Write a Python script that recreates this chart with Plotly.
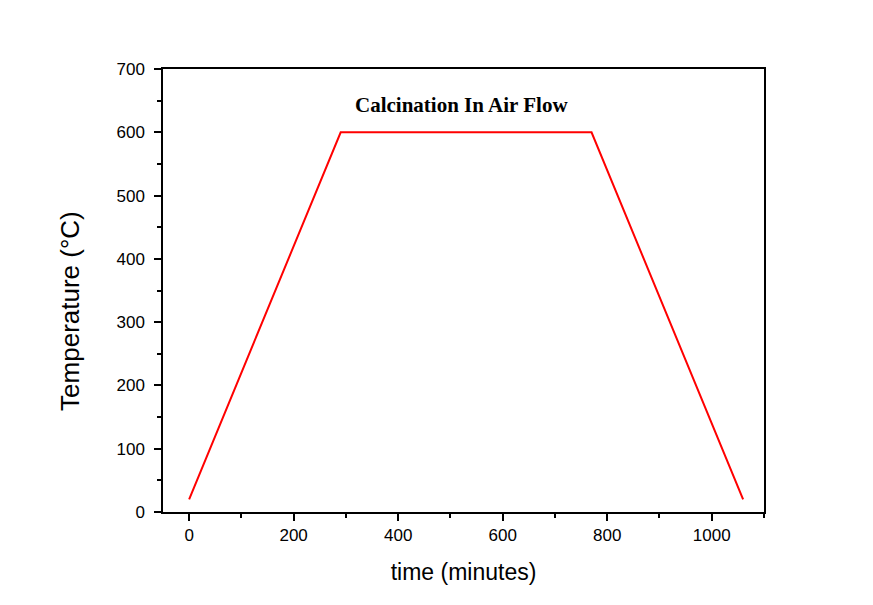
import plotly.graph_objects as go

time_min = [0, 290, 770, 1060]
temperature_c = [20, 600, 600, 20]
x_ticks = [0, 200, 400, 600, 800, 1000]
y_ticks = [0, 100, 200, 300, 400, 500, 600, 700]

fig = go.Figure()
fig.add_trace(go.Scatter(x=time_min, y=temperature_c, mode="lines",
                         line=dict(color="#ff0000", width=2), showlegend=False))

axis_common = dict(showline=True, linecolor="black", linewidth=1.5, mirror=True,
                   showgrid=False, zeroline=False, ticks="outside", ticklen=7,
                   tickwidth=1.5, tickcolor="black",
                   tickfont=dict(family="Liberation Sans, Arial", size=17, color="black"))

fig.update_xaxes(range=[-50, 1100], tickvals=x_ticks,
                 minor=dict(dtick=100, ticks="outside", ticklen=4, tickwidth=1.5, tickcolor="black"),
                 title=dict(text="time (minutes)", font=dict(family="Liberation Sans, Arial", size=23, color="black"), standoff=20),
                 **axis_common)
fig.update_yaxes(range=[0, 700], tickvals=y_ticks, ticklabelstandoff=6,
                 minor=dict(dtick=50, ticks="outside", ticklen=4, tickwidth=1.5, tickcolor="black"),
                 **axis_common)

fig.add_annotation(text="Temperature (°C)", xref="paper", yref="paper",
                   x=-0.1547, y=0.454, showarrow=False, textangle=-90,
                   xanchor="center", yanchor="middle",
                   font=dict(family="Liberation Sans, Arial", size=26, color="black"))

fig.add_annotation(text="<b>Calcination In Air Flow</b>", xref="paper", yref="paper",
                   x=0.4975, y=0.919, showarrow=False, xanchor="center", yanchor="middle",
                   font=dict(family="Liberation Serif, Times New Roman", size=21, color="black"))

fig.update_layout(width=873, height=605, margin=dict(l=155, r=117, t=61, b=101),
                  plot_bgcolor="white", paper_bgcolor="white")

fig.write_html("out.html")
